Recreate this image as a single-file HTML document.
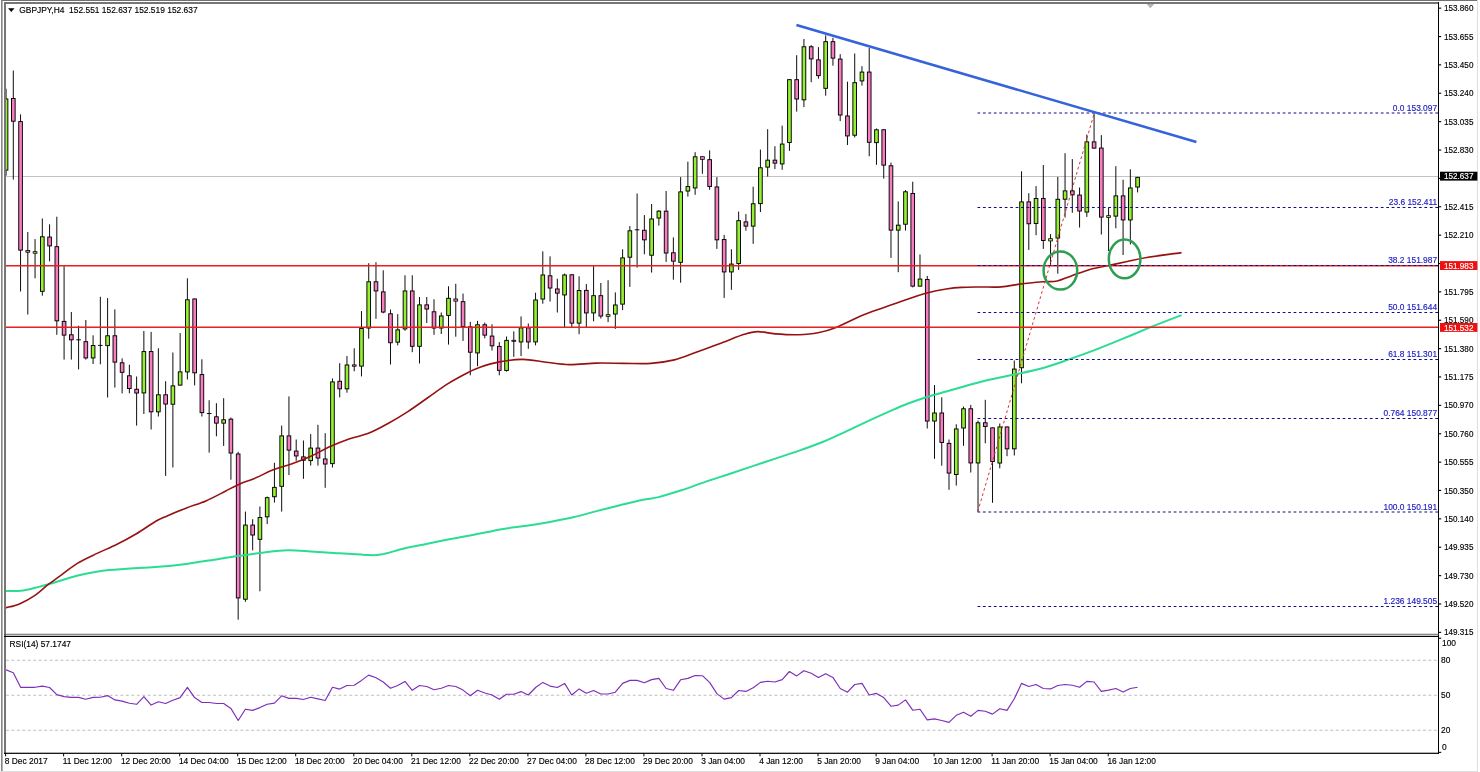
<!DOCTYPE html>
<html><head><meta charset="utf-8"><title>GBPJPY,H4</title>
<style>html,body{margin:0;padding:0;background:#fff;overflow:hidden}body{width:1480px;height:772px;position:relative}</style></head>
<body>
<svg width="1480" height="772" viewBox="0 0 1480 772" style="position:absolute;left:0;top:0;display:block" font-family="'Liberation Sans', sans-serif">
<defs><clipPath id="cm"><rect x="6" y="4" width="1432" height="630"/></clipPath><clipPath id="cr"><rect x="6" y="637" width="1432" height="116"/></clipPath></defs>
<rect width="1480" height="772" fill="#fff"/>
<rect x="1" y="0" width="1476" height="0.9" fill="#606060"/>
<rect x="1" y="0" width="1.6" height="771" fill="#858585"/>
<rect x="1477" y="0" width="1" height="772" fill="#dedede"/>
<rect x="0" y="771" width="1478" height="1" fill="#dedede"/>
<rect x="4" y="2" width="1435" height="2" fill="#767676"/>
<rect x="4" y="2" width="2" height="752" fill="#767676"/>
<path d="M1146.6 4 L1154.2 4 L1150.4 8.2 Z" fill="#b4b4b4"/>
<g clip-path="url(#cm)">
<rect x="6" y="176" width="1432" height="1" fill="#c3c3c3"/>
<line x1="6.05" y1="88.7" x2="6.05" y2="175.7" stroke="#000" stroke-width="0.95"/>
<rect x="4.22" y="98.97" width="3.65" height="71.15" fill="#94F030" stroke="#000" stroke-width="0.95"/>
<line x1="13.30" y1="70.5" x2="13.30" y2="179.6" stroke="#000" stroke-width="0.95"/>
<rect x="11.48" y="98.47" width="3.65" height="22.75" fill="#F97CC2" stroke="#000" stroke-width="0.95"/>
<line x1="20.56" y1="114.4" x2="20.56" y2="291.5" stroke="#000" stroke-width="0.95"/>
<rect x="18.73" y="121.57" width="3.65" height="128.55" fill="#F97CC2" stroke="#000" stroke-width="0.95"/>
<line x1="27.81" y1="232.0" x2="27.81" y2="314.5" stroke="#000" stroke-width="0.95"/>
<rect x="25.89" y="250.47" width="3.85" height="1.75" fill="#F97CC2" stroke="#000" stroke-width="0.75"/>
<line x1="35.06" y1="239.1" x2="35.06" y2="278.3" stroke="#000" stroke-width="0.95"/>
<rect x="33.14" y="251.68" width="3.85" height="1.55" fill="#94F030" stroke="#000" stroke-width="0.75"/>
<line x1="42.32" y1="218.5" x2="42.32" y2="295.7" stroke="#000" stroke-width="0.95"/>
<rect x="40.49" y="236.78" width="3.65" height="54.55" fill="#94F030" stroke="#000" stroke-width="0.95"/>
<line x1="49.57" y1="224.3" x2="49.57" y2="261.4" stroke="#000" stroke-width="0.95"/>
<rect x="47.75" y="237.07" width="3.65" height="8.85" fill="#F97CC2" stroke="#000" stroke-width="0.95"/>
<line x1="56.82" y1="216.7" x2="56.82" y2="334.8" stroke="#000" stroke-width="0.95"/>
<rect x="55.00" y="246.67" width="3.65" height="74.15" fill="#F97CC2" stroke="#000" stroke-width="0.95"/>
<line x1="64.08" y1="266.1" x2="64.08" y2="359.6" stroke="#000" stroke-width="0.95"/>
<rect x="62.25" y="321.38" width="3.65" height="13.75" fill="#F97CC2" stroke="#000" stroke-width="0.95"/>
<line x1="71.33" y1="312.0" x2="71.33" y2="359.6" stroke="#000" stroke-width="0.95"/>
<rect x="69.51" y="334.78" width="3.65" height="5.05" fill="#F97CC2" stroke="#000" stroke-width="0.95"/>
<line x1="78.58" y1="325.8" x2="78.58" y2="369.4" stroke="#000" stroke-width="0.95"/>
<line x1="76.28" y1="339.8" x2="80.88" y2="339.8" stroke="#000" stroke-width="0.95"/>
<line x1="85.84" y1="320.0" x2="85.84" y2="359.6" stroke="#000" stroke-width="0.95"/>
<rect x="84.01" y="341.68" width="3.65" height="16.25" fill="#F97CC2" stroke="#000" stroke-width="0.95"/>
<line x1="93.09" y1="335.3" x2="93.09" y2="364.0" stroke="#000" stroke-width="0.95"/>
<rect x="91.27" y="345.48" width="3.65" height="12.45" fill="#94F030" stroke="#000" stroke-width="0.95"/>
<line x1="100.35" y1="296.8" x2="100.35" y2="364.3" stroke="#000" stroke-width="0.95"/>
<line x1="98.05" y1="345.4" x2="102.65" y2="345.4" stroke="#000" stroke-width="0.95"/>
<line x1="107.60" y1="298.1" x2="107.60" y2="397.5" stroke="#000" stroke-width="0.95"/>
<rect x="105.77" y="335.78" width="3.65" height="9.85" fill="#94F030" stroke="#000" stroke-width="0.95"/>
<line x1="114.85" y1="309.4" x2="114.85" y2="387.6" stroke="#000" stroke-width="0.95"/>
<rect x="113.03" y="335.78" width="3.65" height="26.35" fill="#F97CC2" stroke="#000" stroke-width="0.95"/>
<line x1="122.11" y1="358.4" x2="122.11" y2="393.4" stroke="#000" stroke-width="0.95"/>
<rect x="120.28" y="362.78" width="3.65" height="9.55" fill="#F97CC2" stroke="#000" stroke-width="0.95"/>
<line x1="129.36" y1="364.7" x2="129.36" y2="393.3" stroke="#000" stroke-width="0.95"/>
<rect x="127.53" y="375.78" width="3.65" height="12.75" fill="#F97CC2" stroke="#000" stroke-width="0.95"/>
<line x1="136.61" y1="376.5" x2="136.61" y2="425.6" stroke="#000" stroke-width="0.95"/>
<rect x="134.79" y="389.28" width="3.65" height="3.75" fill="#F97CC2" stroke="#000" stroke-width="0.95"/>
<line x1="143.87" y1="331.0" x2="143.87" y2="414.0" stroke="#000" stroke-width="0.95"/>
<rect x="142.04" y="351.58" width="3.65" height="41.35" fill="#94F030" stroke="#000" stroke-width="0.95"/>
<line x1="151.12" y1="331.9" x2="151.12" y2="429.5" stroke="#000" stroke-width="0.95"/>
<rect x="149.29" y="351.58" width="3.65" height="60.25" fill="#F97CC2" stroke="#000" stroke-width="0.95"/>
<line x1="158.37" y1="348.3" x2="158.37" y2="416.5" stroke="#000" stroke-width="0.95"/>
<rect x="156.55" y="394.78" width="3.65" height="17.05" fill="#94F030" stroke="#000" stroke-width="0.95"/>
<line x1="165.63" y1="381.2" x2="165.63" y2="475.9" stroke="#000" stroke-width="0.95"/>
<rect x="163.80" y="394.78" width="3.65" height="9.25" fill="#F97CC2" stroke="#000" stroke-width="0.95"/>
<line x1="172.88" y1="352.5" x2="172.88" y2="467.5" stroke="#000" stroke-width="0.95"/>
<rect x="171.06" y="385.88" width="3.65" height="18.35" fill="#94F030" stroke="#000" stroke-width="0.95"/>
<line x1="180.13" y1="333.1" x2="180.13" y2="385.6" stroke="#000" stroke-width="0.95"/>
<rect x="178.31" y="371.88" width="3.65" height="13.25" fill="#94F030" stroke="#000" stroke-width="0.95"/>
<line x1="187.39" y1="278.3" x2="187.39" y2="379.5" stroke="#000" stroke-width="0.95"/>
<rect x="185.56" y="299.78" width="3.65" height="72.15" fill="#94F030" stroke="#000" stroke-width="0.95"/>
<line x1="194.64" y1="298.5" x2="194.64" y2="385.4" stroke="#000" stroke-width="0.95"/>
<rect x="192.82" y="298.98" width="3.65" height="73.85" fill="#F97CC2" stroke="#000" stroke-width="0.95"/>
<line x1="201.89" y1="359.3" x2="201.89" y2="416.5" stroke="#000" stroke-width="0.95"/>
<rect x="200.07" y="374.58" width="3.65" height="38.05" fill="#F97CC2" stroke="#000" stroke-width="0.95"/>
<line x1="209.15" y1="400.2" x2="209.15" y2="452.6" stroke="#000" stroke-width="0.95"/>
<line x1="206.85" y1="413.5" x2="211.45" y2="413.5" stroke="#000" stroke-width="0.95"/>
<line x1="216.40" y1="403.2" x2="216.40" y2="436.3" stroke="#000" stroke-width="0.95"/>
<rect x="214.58" y="416.78" width="3.65" height="6.35" fill="#F97CC2" stroke="#000" stroke-width="0.95"/>
<line x1="223.66" y1="398.2" x2="223.66" y2="445.9" stroke="#000" stroke-width="0.95"/>
<rect x="221.83" y="419.78" width="3.65" height="3.35" fill="#94F030" stroke="#000" stroke-width="0.95"/>
<line x1="230.91" y1="417.5" x2="230.91" y2="479.7" stroke="#000" stroke-width="0.95"/>
<rect x="229.08" y="419.18" width="3.65" height="33.85" fill="#F97CC2" stroke="#000" stroke-width="0.95"/>
<line x1="238.16" y1="451.8" x2="238.16" y2="619.7" stroke="#000" stroke-width="0.95"/>
<rect x="236.34" y="453.98" width="3.65" height="143.95" fill="#F97CC2" stroke="#000" stroke-width="0.95"/>
<line x1="245.42" y1="511.6" x2="245.42" y2="601.8" stroke="#000" stroke-width="0.95"/>
<rect x="243.59" y="525.08" width="3.65" height="74.15" fill="#94F030" stroke="#000" stroke-width="0.95"/>
<line x1="252.67" y1="519.2" x2="252.67" y2="550.4" stroke="#000" stroke-width="0.95"/>
<rect x="250.84" y="525.08" width="3.65" height="9.95" fill="#F97CC2" stroke="#000" stroke-width="0.95"/>
<line x1="259.92" y1="506.5" x2="259.92" y2="591.3" stroke="#000" stroke-width="0.95"/>
<rect x="258.10" y="517.48" width="3.65" height="21.85" fill="#94F030" stroke="#000" stroke-width="0.95"/>
<line x1="267.18" y1="496.6" x2="267.18" y2="524.1" stroke="#000" stroke-width="0.95"/>
<rect x="265.35" y="497.68" width="3.65" height="19.15" fill="#94F030" stroke="#000" stroke-width="0.95"/>
<line x1="274.43" y1="462.8" x2="274.43" y2="502.6" stroke="#000" stroke-width="0.95"/>
<rect x="272.60" y="487.38" width="3.65" height="9.35" fill="#94F030" stroke="#000" stroke-width="0.95"/>
<line x1="281.68" y1="425.6" x2="281.68" y2="511.6" stroke="#000" stroke-width="0.95"/>
<rect x="279.86" y="435.88" width="3.65" height="50.45" fill="#94F030" stroke="#000" stroke-width="0.95"/>
<line x1="288.94" y1="396.4" x2="288.94" y2="475.1" stroke="#000" stroke-width="0.95"/>
<rect x="287.11" y="435.88" width="3.65" height="14.25" fill="#F97CC2" stroke="#000" stroke-width="0.95"/>
<line x1="296.19" y1="439.5" x2="296.19" y2="460.7" stroke="#000" stroke-width="0.95"/>
<rect x="294.37" y="451.08" width="3.65" height="4.85" fill="#F97CC2" stroke="#000" stroke-width="0.95"/>
<line x1="303.44" y1="440.5" x2="303.44" y2="478.8" stroke="#000" stroke-width="0.95"/>
<rect x="301.62" y="456.88" width="3.65" height="3.35" fill="#F97CC2" stroke="#000" stroke-width="0.95"/>
<line x1="310.70" y1="434.1" x2="310.70" y2="465.6" stroke="#000" stroke-width="0.95"/>
<rect x="308.87" y="448.08" width="3.65" height="12.55" fill="#94F030" stroke="#000" stroke-width="0.95"/>
<line x1="317.95" y1="424.8" x2="317.95" y2="465.6" stroke="#000" stroke-width="0.95"/>
<rect x="316.13" y="448.08" width="3.65" height="9.95" fill="#F97CC2" stroke="#000" stroke-width="0.95"/>
<line x1="325.20" y1="433.2" x2="325.20" y2="487.8" stroke="#000" stroke-width="0.95"/>
<rect x="323.38" y="458.98" width="3.65" height="5.05" fill="#F97CC2" stroke="#000" stroke-width="0.95"/>
<line x1="332.46" y1="378.4" x2="332.46" y2="467.5" stroke="#000" stroke-width="0.95"/>
<rect x="330.63" y="381.88" width="3.65" height="81.75" fill="#94F030" stroke="#000" stroke-width="0.95"/>
<line x1="339.71" y1="363.2" x2="339.71" y2="397.4" stroke="#000" stroke-width="0.95"/>
<rect x="337.89" y="381.28" width="3.65" height="7.55" fill="#F97CC2" stroke="#000" stroke-width="0.95"/>
<line x1="346.96" y1="356.1" x2="346.96" y2="392.7" stroke="#000" stroke-width="0.95"/>
<rect x="345.14" y="364.98" width="3.65" height="23.85" fill="#94F030" stroke="#000" stroke-width="0.95"/>
<line x1="354.22" y1="348.3" x2="354.22" y2="371.3" stroke="#000" stroke-width="0.95"/>
<rect x="352.29" y="364.88" width="3.85" height="1.35" fill="#F97CC2" stroke="#000" stroke-width="0.75"/>
<line x1="361.47" y1="311.1" x2="361.47" y2="376.4" stroke="#000" stroke-width="0.95"/>
<rect x="359.65" y="328.48" width="3.65" height="37.65" fill="#94F030" stroke="#000" stroke-width="0.95"/>
<line x1="368.73" y1="263.2" x2="368.73" y2="338.7" stroke="#000" stroke-width="0.95"/>
<rect x="366.90" y="281.78" width="3.65" height="46.25" fill="#94F030" stroke="#000" stroke-width="0.95"/>
<line x1="375.98" y1="262.2" x2="375.98" y2="318.8" stroke="#000" stroke-width="0.95"/>
<rect x="374.15" y="281.78" width="3.65" height="9.15" fill="#F97CC2" stroke="#000" stroke-width="0.95"/>
<line x1="383.23" y1="270.3" x2="383.23" y2="313.3" stroke="#000" stroke-width="0.95"/>
<rect x="381.41" y="291.88" width="3.65" height="20.15" fill="#F97CC2" stroke="#000" stroke-width="0.95"/>
<line x1="390.49" y1="309.5" x2="390.49" y2="364.5" stroke="#000" stroke-width="0.95"/>
<rect x="388.66" y="313.78" width="3.65" height="28.95" fill="#F97CC2" stroke="#000" stroke-width="0.95"/>
<line x1="397.74" y1="314.2" x2="397.74" y2="345.4" stroke="#000" stroke-width="0.95"/>
<rect x="395.91" y="329.88" width="3.65" height="12.25" fill="#94F030" stroke="#000" stroke-width="0.95"/>
<line x1="404.99" y1="275.3" x2="404.99" y2="330.7" stroke="#000" stroke-width="0.95"/>
<rect x="403.17" y="290.98" width="3.65" height="37.95" fill="#94F030" stroke="#000" stroke-width="0.95"/>
<line x1="412.25" y1="275.3" x2="412.25" y2="352.2" stroke="#000" stroke-width="0.95"/>
<rect x="410.42" y="290.98" width="3.65" height="55.35" fill="#F97CC2" stroke="#000" stroke-width="0.95"/>
<line x1="419.50" y1="297.0" x2="419.50" y2="363.5" stroke="#000" stroke-width="0.95"/>
<rect x="417.67" y="304.88" width="3.65" height="41.45" fill="#94F030" stroke="#000" stroke-width="0.95"/>
<line x1="426.75" y1="297.0" x2="426.75" y2="323.0" stroke="#000" stroke-width="0.95"/>
<rect x="424.93" y="304.88" width="3.65" height="4.15" fill="#F97CC2" stroke="#000" stroke-width="0.95"/>
<line x1="434.01" y1="299.3" x2="434.01" y2="334.8" stroke="#000" stroke-width="0.95"/>
<rect x="432.18" y="311.78" width="3.65" height="16.25" fill="#F97CC2" stroke="#000" stroke-width="0.95"/>
<line x1="441.26" y1="312.5" x2="441.26" y2="334.0" stroke="#000" stroke-width="0.95"/>
<rect x="439.44" y="315.98" width="3.65" height="12.05" fill="#94F030" stroke="#000" stroke-width="0.95"/>
<line x1="448.51" y1="286.3" x2="448.51" y2="344.6" stroke="#000" stroke-width="0.95"/>
<rect x="446.69" y="298.28" width="3.65" height="17.15" fill="#94F030" stroke="#000" stroke-width="0.95"/>
<line x1="455.77" y1="283.8" x2="455.77" y2="336.7" stroke="#000" stroke-width="0.95"/>
<rect x="453.84" y="298.98" width="3.85" height="2.15" fill="#F97CC2" stroke="#000" stroke-width="0.75"/>
<line x1="463.02" y1="293.6" x2="463.02" y2="340.9" stroke="#000" stroke-width="0.95"/>
<rect x="461.20" y="301.68" width="3.65" height="24.75" fill="#F97CC2" stroke="#000" stroke-width="0.95"/>
<line x1="470.27" y1="321.8" x2="470.27" y2="375.3" stroke="#000" stroke-width="0.95"/>
<rect x="468.45" y="326.88" width="3.65" height="25.35" fill="#F97CC2" stroke="#000" stroke-width="0.95"/>
<line x1="477.53" y1="320.9" x2="477.53" y2="366.2" stroke="#000" stroke-width="0.95"/>
<rect x="475.70" y="324.78" width="3.65" height="28.15" fill="#94F030" stroke="#000" stroke-width="0.95"/>
<line x1="484.78" y1="322.6" x2="484.78" y2="338.3" stroke="#000" stroke-width="0.95"/>
<rect x="482.96" y="324.78" width="3.65" height="10.35" fill="#F97CC2" stroke="#000" stroke-width="0.95"/>
<line x1="492.03" y1="324.3" x2="492.03" y2="350.5" stroke="#000" stroke-width="0.95"/>
<rect x="490.21" y="336.08" width="3.65" height="9.75" fill="#F97CC2" stroke="#000" stroke-width="0.95"/>
<line x1="499.29" y1="342.1" x2="499.29" y2="375.3" stroke="#000" stroke-width="0.95"/>
<rect x="497.46" y="346.38" width="3.65" height="23.95" fill="#F97CC2" stroke="#000" stroke-width="0.95"/>
<line x1="506.54" y1="336.5" x2="506.54" y2="371.6" stroke="#000" stroke-width="0.95"/>
<rect x="504.72" y="340.38" width="3.65" height="30.05" fill="#94F030" stroke="#000" stroke-width="0.95"/>
<line x1="513.79" y1="331.4" x2="513.79" y2="356.8" stroke="#000" stroke-width="0.95"/>
<rect x="511.87" y="340.27" width="3.85" height="1.05" fill="#F97CC2" stroke="#000" stroke-width="0.75"/>
<line x1="521.05" y1="316.4" x2="521.05" y2="356.1" stroke="#000" stroke-width="0.95"/>
<rect x="519.22" y="327.88" width="3.65" height="14.05" fill="#94F030" stroke="#000" stroke-width="0.95"/>
<line x1="528.30" y1="323.5" x2="528.30" y2="348.8" stroke="#000" stroke-width="0.95"/>
<rect x="526.48" y="327.88" width="3.65" height="14.05" fill="#F97CC2" stroke="#000" stroke-width="0.95"/>
<line x1="535.56" y1="292.7" x2="535.56" y2="345.4" stroke="#000" stroke-width="0.95"/>
<rect x="533.73" y="299.98" width="3.65" height="41.95" fill="#94F030" stroke="#000" stroke-width="0.95"/>
<line x1="542.81" y1="251.4" x2="542.81" y2="303.7" stroke="#000" stroke-width="0.95"/>
<rect x="540.98" y="274.98" width="3.65" height="24.05" fill="#94F030" stroke="#000" stroke-width="0.95"/>
<line x1="550.06" y1="256.4" x2="550.06" y2="301.5" stroke="#000" stroke-width="0.95"/>
<rect x="548.24" y="275.78" width="3.65" height="12.25" fill="#F97CC2" stroke="#000" stroke-width="0.95"/>
<line x1="557.32" y1="278.7" x2="557.32" y2="312.5" stroke="#000" stroke-width="0.95"/>
<rect x="555.49" y="288.98" width="3.65" height="4.15" fill="#F97CC2" stroke="#000" stroke-width="0.95"/>
<line x1="564.57" y1="273.6" x2="564.57" y2="327.1" stroke="#000" stroke-width="0.95"/>
<rect x="562.74" y="274.98" width="3.65" height="19.95" fill="#94F030" stroke="#000" stroke-width="0.95"/>
<line x1="571.82" y1="274.3" x2="571.82" y2="327.1" stroke="#000" stroke-width="0.95"/>
<rect x="570.00" y="274.78" width="3.65" height="48.35" fill="#F97CC2" stroke="#000" stroke-width="0.95"/>
<line x1="579.08" y1="276.3" x2="579.08" y2="334.2" stroke="#000" stroke-width="0.95"/>
<rect x="577.25" y="290.48" width="3.65" height="32.65" fill="#94F030" stroke="#000" stroke-width="0.95"/>
<line x1="586.33" y1="284.1" x2="586.33" y2="327.1" stroke="#000" stroke-width="0.95"/>
<rect x="584.50" y="290.38" width="3.65" height="22.55" fill="#F97CC2" stroke="#000" stroke-width="0.95"/>
<line x1="593.58" y1="266.1" x2="593.58" y2="321.3" stroke="#000" stroke-width="0.95"/>
<rect x="591.76" y="295.68" width="3.65" height="17.25" fill="#94F030" stroke="#000" stroke-width="0.95"/>
<line x1="600.84" y1="283.0" x2="600.84" y2="318.5" stroke="#000" stroke-width="0.95"/>
<rect x="599.01" y="295.68" width="3.65" height="20.35" fill="#F97CC2" stroke="#000" stroke-width="0.95"/>
<line x1="608.09" y1="280.2" x2="608.09" y2="322.1" stroke="#000" stroke-width="0.95"/>
<rect x="606.17" y="314.68" width="3.85" height="1.65" fill="#94F030" stroke="#000" stroke-width="0.75"/>
<line x1="615.34" y1="292.4" x2="615.34" y2="328.9" stroke="#000" stroke-width="0.95"/>
<rect x="613.52" y="304.98" width="3.65" height="9.05" fill="#94F030" stroke="#000" stroke-width="0.95"/>
<line x1="622.60" y1="249.3" x2="622.60" y2="310.1" stroke="#000" stroke-width="0.95"/>
<rect x="620.77" y="257.88" width="3.65" height="46.25" fill="#94F030" stroke="#000" stroke-width="0.95"/>
<line x1="629.85" y1="226.1" x2="629.85" y2="286.9" stroke="#000" stroke-width="0.95"/>
<rect x="628.03" y="230.78" width="3.65" height="26.45" fill="#94F030" stroke="#000" stroke-width="0.95"/>
<line x1="637.10" y1="193.5" x2="637.10" y2="267.5" stroke="#000" stroke-width="0.95"/>
<line x1="634.80" y1="229.8" x2="639.40" y2="229.8" stroke="#000" stroke-width="0.95"/>
<line x1="644.36" y1="215.1" x2="644.36" y2="254.3" stroke="#000" stroke-width="0.95"/>
<rect x="642.53" y="230.28" width="3.65" height="9.55" fill="#F97CC2" stroke="#000" stroke-width="0.95"/>
<line x1="651.61" y1="204.0" x2="651.61" y2="272.6" stroke="#000" stroke-width="0.95"/>
<rect x="649.79" y="218.97" width="3.65" height="36.25" fill="#94F030" stroke="#000" stroke-width="0.95"/>
<line x1="658.86" y1="210.1" x2="658.86" y2="225.6" stroke="#000" stroke-width="0.95"/>
<rect x="657.04" y="211.17" width="3.65" height="6.85" fill="#94F030" stroke="#000" stroke-width="0.95"/>
<line x1="666.12" y1="191.0" x2="666.12" y2="261.9" stroke="#000" stroke-width="0.95"/>
<rect x="664.29" y="211.17" width="3.65" height="41.85" fill="#F97CC2" stroke="#000" stroke-width="0.95"/>
<line x1="673.37" y1="237.4" x2="673.37" y2="279.7" stroke="#000" stroke-width="0.95"/>
<rect x="671.55" y="252.78" width="3.65" height="8.35" fill="#F97CC2" stroke="#000" stroke-width="0.95"/>
<line x1="680.63" y1="177.1" x2="680.63" y2="282.7" stroke="#000" stroke-width="0.95"/>
<rect x="678.80" y="191.88" width="3.65" height="70.45" fill="#94F030" stroke="#000" stroke-width="0.95"/>
<line x1="687.88" y1="161.7" x2="687.88" y2="196.6" stroke="#000" stroke-width="0.95"/>
<rect x="686.05" y="186.57" width="3.65" height="4.45" fill="#94F030" stroke="#000" stroke-width="0.95"/>
<line x1="695.13" y1="152.2" x2="695.13" y2="194.8" stroke="#000" stroke-width="0.95"/>
<rect x="693.31" y="156.78" width="3.65" height="31.15" fill="#94F030" stroke="#000" stroke-width="0.95"/>
<line x1="702.39" y1="156.3" x2="702.39" y2="173.8" stroke="#000" stroke-width="0.95"/>
<rect x="700.46" y="156.68" width="3.85" height="2.65" fill="#F97CC2" stroke="#000" stroke-width="0.75"/>
<line x1="709.64" y1="150.4" x2="709.64" y2="189.8" stroke="#000" stroke-width="0.95"/>
<rect x="707.81" y="159.67" width="3.65" height="26.85" fill="#F97CC2" stroke="#000" stroke-width="0.95"/>
<line x1="716.89" y1="177.1" x2="716.89" y2="248.9" stroke="#000" stroke-width="0.95"/>
<rect x="715.07" y="186.97" width="3.65" height="52.85" fill="#F97CC2" stroke="#000" stroke-width="0.95"/>
<line x1="724.15" y1="234.9" x2="724.15" y2="297.9" stroke="#000" stroke-width="0.95"/>
<rect x="722.32" y="239.57" width="3.65" height="32.35" fill="#F97CC2" stroke="#000" stroke-width="0.95"/>
<line x1="731.40" y1="249.3" x2="731.40" y2="289.8" stroke="#000" stroke-width="0.95"/>
<rect x="729.58" y="264.08" width="3.65" height="7.85" fill="#94F030" stroke="#000" stroke-width="0.95"/>
<line x1="738.65" y1="211.6" x2="738.65" y2="269.9" stroke="#000" stroke-width="0.95"/>
<rect x="736.83" y="220.67" width="3.65" height="42.85" fill="#94F030" stroke="#000" stroke-width="0.95"/>
<line x1="745.91" y1="214.1" x2="745.91" y2="230.7" stroke="#000" stroke-width="0.95"/>
<rect x="744.08" y="221.88" width="3.65" height="4.25" fill="#F97CC2" stroke="#000" stroke-width="0.95"/>
<line x1="753.16" y1="186.7" x2="753.16" y2="243.8" stroke="#000" stroke-width="0.95"/>
<rect x="751.34" y="203.78" width="3.65" height="22.35" fill="#94F030" stroke="#000" stroke-width="0.95"/>
<line x1="760.41" y1="149.6" x2="760.41" y2="212.1" stroke="#000" stroke-width="0.95"/>
<rect x="758.59" y="167.78" width="3.65" height="35.85" fill="#94F030" stroke="#000" stroke-width="0.95"/>
<line x1="767.67" y1="129.2" x2="767.67" y2="176.6" stroke="#000" stroke-width="0.95"/>
<rect x="765.84" y="160.17" width="3.65" height="6.95" fill="#94F030" stroke="#000" stroke-width="0.95"/>
<line x1="774.92" y1="146.2" x2="774.92" y2="169.0" stroke="#000" stroke-width="0.95"/>
<rect x="773.10" y="160.17" width="3.65" height="2.95" fill="#F97CC2" stroke="#000" stroke-width="0.95"/>
<line x1="782.17" y1="125.6" x2="782.17" y2="169.8" stroke="#000" stroke-width="0.95"/>
<rect x="780.35" y="144.07" width="3.65" height="19.85" fill="#94F030" stroke="#000" stroke-width="0.95"/>
<line x1="789.43" y1="79.2" x2="789.43" y2="150.9" stroke="#000" stroke-width="0.95"/>
<rect x="787.60" y="79.67" width="3.65" height="62.85" fill="#94F030" stroke="#000" stroke-width="0.95"/>
<line x1="796.68" y1="55.2" x2="796.68" y2="111.6" stroke="#000" stroke-width="0.95"/>
<rect x="794.86" y="79.67" width="3.65" height="19.35" fill="#F97CC2" stroke="#000" stroke-width="0.95"/>
<line x1="803.93" y1="39.0" x2="803.93" y2="107.1" stroke="#000" stroke-width="0.95"/>
<rect x="802.11" y="46.77" width="3.65" height="53.05" fill="#94F030" stroke="#000" stroke-width="0.95"/>
<line x1="811.19" y1="45.1" x2="811.19" y2="82.2" stroke="#000" stroke-width="0.95"/>
<rect x="809.36" y="46.77" width="3.65" height="12.15" fill="#F97CC2" stroke="#000" stroke-width="0.95"/>
<line x1="818.44" y1="47.1" x2="818.44" y2="78.7" stroke="#000" stroke-width="0.95"/>
<rect x="816.62" y="59.88" width="3.65" height="15.75" fill="#F97CC2" stroke="#000" stroke-width="0.95"/>
<line x1="825.70" y1="35.3" x2="825.70" y2="95.7" stroke="#000" stroke-width="0.95"/>
<rect x="823.87" y="41.68" width="3.65" height="46.65" fill="#94F030" stroke="#000" stroke-width="0.95"/>
<line x1="832.95" y1="37.8" x2="832.95" y2="65.7" stroke="#000" stroke-width="0.95"/>
<rect x="831.12" y="41.68" width="3.65" height="16.45" fill="#F97CC2" stroke="#000" stroke-width="0.95"/>
<line x1="840.20" y1="54.2" x2="840.20" y2="121.1" stroke="#000" stroke-width="0.95"/>
<rect x="838.38" y="59.08" width="3.65" height="55.95" fill="#F97CC2" stroke="#000" stroke-width="0.95"/>
<line x1="847.46" y1="81.7" x2="847.46" y2="145.0" stroke="#000" stroke-width="0.95"/>
<rect x="845.63" y="115.97" width="3.65" height="19.95" fill="#F97CC2" stroke="#000" stroke-width="0.95"/>
<line x1="854.71" y1="53.5" x2="854.71" y2="137.4" stroke="#000" stroke-width="0.95"/>
<rect x="852.88" y="82.67" width="3.65" height="52.55" fill="#94F030" stroke="#000" stroke-width="0.95"/>
<line x1="861.96" y1="66.2" x2="861.96" y2="85.6" stroke="#000" stroke-width="0.95"/>
<rect x="860.14" y="72.07" width="3.65" height="8.85" fill="#94F030" stroke="#000" stroke-width="0.95"/>
<line x1="869.22" y1="47.9" x2="869.22" y2="156.3" stroke="#000" stroke-width="0.95"/>
<rect x="867.39" y="72.07" width="3.65" height="70.25" fill="#F97CC2" stroke="#000" stroke-width="0.95"/>
<line x1="876.47" y1="128.5" x2="876.47" y2="164.8" stroke="#000" stroke-width="0.95"/>
<rect x="874.64" y="129.78" width="3.65" height="12.85" fill="#94F030" stroke="#000" stroke-width="0.95"/>
<line x1="883.72" y1="129.3" x2="883.72" y2="178.6" stroke="#000" stroke-width="0.95"/>
<rect x="881.90" y="129.78" width="3.65" height="35.35" fill="#F97CC2" stroke="#000" stroke-width="0.95"/>
<line x1="890.98" y1="162.6" x2="890.98" y2="257.9" stroke="#000" stroke-width="0.95"/>
<rect x="889.15" y="165.78" width="3.65" height="64.35" fill="#F97CC2" stroke="#000" stroke-width="0.95"/>
<line x1="898.23" y1="201.4" x2="898.23" y2="272.2" stroke="#000" stroke-width="0.95"/>
<rect x="896.41" y="225.17" width="3.65" height="4.95" fill="#94F030" stroke="#000" stroke-width="0.95"/>
<line x1="905.48" y1="190.1" x2="905.48" y2="230.6" stroke="#000" stroke-width="0.95"/>
<rect x="903.66" y="191.78" width="3.65" height="32.45" fill="#94F030" stroke="#000" stroke-width="0.95"/>
<line x1="912.74" y1="181.7" x2="912.74" y2="287.4" stroke="#000" stroke-width="0.95"/>
<rect x="910.91" y="193.47" width="3.65" height="92.65" fill="#F97CC2" stroke="#000" stroke-width="0.95"/>
<line x1="919.99" y1="254.5" x2="919.99" y2="286.6" stroke="#000" stroke-width="0.95"/>
<rect x="918.17" y="279.08" width="3.65" height="7.05" fill="#94F030" stroke="#000" stroke-width="0.95"/>
<line x1="927.24" y1="275.9" x2="927.24" y2="428.5" stroke="#000" stroke-width="0.95"/>
<rect x="925.42" y="279.48" width="3.65" height="141.55" fill="#F97CC2" stroke="#000" stroke-width="0.95"/>
<line x1="934.50" y1="385.1" x2="934.50" y2="458.8" stroke="#000" stroke-width="0.95"/>
<rect x="932.67" y="412.98" width="3.65" height="8.05" fill="#94F030" stroke="#000" stroke-width="0.95"/>
<line x1="941.75" y1="397.3" x2="941.75" y2="465.7" stroke="#000" stroke-width="0.95"/>
<rect x="939.93" y="412.98" width="3.65" height="29.45" fill="#F97CC2" stroke="#000" stroke-width="0.95"/>
<line x1="949.00" y1="439.5" x2="949.00" y2="489.8" stroke="#000" stroke-width="0.95"/>
<rect x="947.18" y="443.38" width="3.65" height="29.65" fill="#F97CC2" stroke="#000" stroke-width="0.95"/>
<line x1="956.26" y1="424.3" x2="956.26" y2="485.6" stroke="#000" stroke-width="0.95"/>
<rect x="954.43" y="428.98" width="3.65" height="45.55" fill="#94F030" stroke="#000" stroke-width="0.95"/>
<line x1="963.51" y1="406.6" x2="963.51" y2="445.8" stroke="#000" stroke-width="0.95"/>
<rect x="961.69" y="408.78" width="3.65" height="19.25" fill="#94F030" stroke="#000" stroke-width="0.95"/>
<line x1="970.77" y1="404.9" x2="970.77" y2="472.5" stroke="#000" stroke-width="0.95"/>
<rect x="968.94" y="408.78" width="3.65" height="54.15" fill="#F97CC2" stroke="#000" stroke-width="0.95"/>
<line x1="978.02" y1="420.6" x2="978.02" y2="511.8" stroke="#000" stroke-width="0.95"/>
<rect x="976.19" y="422.78" width="3.65" height="40.15" fill="#94F030" stroke="#000" stroke-width="0.95"/>
<line x1="985.27" y1="399.8" x2="985.27" y2="443.3" stroke="#000" stroke-width="0.95"/>
<rect x="983.45" y="422.78" width="3.65" height="3.65" fill="#F97CC2" stroke="#000" stroke-width="0.95"/>
<line x1="992.53" y1="427.4" x2="992.53" y2="502.8" stroke="#000" stroke-width="0.95"/>
<rect x="990.70" y="427.88" width="3.65" height="33.65" fill="#F97CC2" stroke="#000" stroke-width="0.95"/>
<line x1="999.78" y1="423.5" x2="999.78" y2="468.3" stroke="#000" stroke-width="0.95"/>
<rect x="997.95" y="426.98" width="3.65" height="36.05" fill="#94F030" stroke="#000" stroke-width="0.95"/>
<line x1="1007.03" y1="426.5" x2="1007.03" y2="456.2" stroke="#000" stroke-width="0.95"/>
<rect x="1005.21" y="426.98" width="3.65" height="21.85" fill="#F97CC2" stroke="#000" stroke-width="0.95"/>
<line x1="1014.29" y1="360.5" x2="1014.29" y2="455.5" stroke="#000" stroke-width="0.95"/>
<rect x="1012.46" y="369.08" width="3.65" height="79.75" fill="#94F030" stroke="#000" stroke-width="0.95"/>
<line x1="1021.54" y1="171.3" x2="1021.54" y2="383.3" stroke="#000" stroke-width="0.95"/>
<rect x="1019.72" y="201.88" width="3.65" height="165.85" fill="#94F030" stroke="#000" stroke-width="0.95"/>
<line x1="1028.79" y1="193.2" x2="1028.79" y2="249.9" stroke="#000" stroke-width="0.95"/>
<rect x="1026.97" y="201.88" width="3.65" height="21.85" fill="#F97CC2" stroke="#000" stroke-width="0.95"/>
<line x1="1036.05" y1="186.1" x2="1036.05" y2="235.2" stroke="#000" stroke-width="0.95"/>
<rect x="1034.22" y="198.47" width="3.65" height="25.05" fill="#94F030" stroke="#000" stroke-width="0.95"/>
<line x1="1043.30" y1="165.0" x2="1043.30" y2="248.9" stroke="#000" stroke-width="0.95"/>
<rect x="1041.48" y="198.47" width="3.65" height="42.05" fill="#F97CC2" stroke="#000" stroke-width="0.95"/>
<line x1="1050.55" y1="234.1" x2="1050.55" y2="264.8" stroke="#000" stroke-width="0.95"/>
<rect x="1048.63" y="238.68" width="3.85" height="2.25" fill="#94F030" stroke="#000" stroke-width="0.75"/>
<line x1="1057.81" y1="176.9" x2="1057.81" y2="273.7" stroke="#000" stroke-width="0.95"/>
<rect x="1055.98" y="199.28" width="3.65" height="38.75" fill="#94F030" stroke="#000" stroke-width="0.95"/>
<line x1="1065.06" y1="153.2" x2="1065.06" y2="217.5" stroke="#000" stroke-width="0.95"/>
<rect x="1063.24" y="190.88" width="3.65" height="8.35" fill="#94F030" stroke="#000" stroke-width="0.95"/>
<line x1="1072.31" y1="159.1" x2="1072.31" y2="212.8" stroke="#000" stroke-width="0.95"/>
<rect x="1070.49" y="190.88" width="3.65" height="3.95" fill="#F97CC2" stroke="#000" stroke-width="0.95"/>
<line x1="1079.57" y1="187.5" x2="1079.57" y2="227.5" stroke="#000" stroke-width="0.95"/>
<rect x="1077.74" y="195.07" width="3.65" height="15.95" fill="#F97CC2" stroke="#000" stroke-width="0.95"/>
<line x1="1086.82" y1="134.6" x2="1086.82" y2="216.9" stroke="#000" stroke-width="0.95"/>
<rect x="1085.00" y="141.88" width="3.65" height="70.15" fill="#94F030" stroke="#000" stroke-width="0.95"/>
<line x1="1094.07" y1="113.5" x2="1094.07" y2="148.6" stroke="#000" stroke-width="0.95"/>
<rect x="1092.25" y="141.88" width="3.65" height="6.25" fill="#F97CC2" stroke="#000" stroke-width="0.95"/>
<line x1="1101.33" y1="135.1" x2="1101.33" y2="234.5" stroke="#000" stroke-width="0.95"/>
<rect x="1099.50" y="148.07" width="3.65" height="69.05" fill="#F97CC2" stroke="#000" stroke-width="0.95"/>
<line x1="1108.58" y1="207.7" x2="1108.58" y2="251.0" stroke="#000" stroke-width="0.95"/>
<rect x="1106.66" y="215.68" width="3.85" height="1.75" fill="#94F030" stroke="#000" stroke-width="0.75"/>
<line x1="1115.84" y1="166.2" x2="1115.84" y2="228.3" stroke="#000" stroke-width="0.95"/>
<rect x="1114.01" y="195.88" width="3.65" height="20.25" fill="#94F030" stroke="#000" stroke-width="0.95"/>
<line x1="1123.09" y1="179.7" x2="1123.09" y2="255.0" stroke="#000" stroke-width="0.95"/>
<rect x="1121.26" y="195.88" width="3.65" height="24.05" fill="#F97CC2" stroke="#000" stroke-width="0.95"/>
<line x1="1130.34" y1="169.3" x2="1130.34" y2="244.4" stroke="#000" stroke-width="0.95"/>
<rect x="1128.52" y="187.97" width="3.65" height="31.95" fill="#94F030" stroke="#000" stroke-width="0.95"/>
<line x1="1137.60" y1="176.9" x2="1137.60" y2="192.4" stroke="#000" stroke-width="0.95"/>
<rect x="1135.77" y="177.38" width="3.65" height="9.65" fill="#94F030" stroke="#000" stroke-width="0.95"/>
<path d="M5.8 591.1 C8.7 591.0 17.8 591.1 23.3 590.4 C28.8 589.7 34.7 587.9 38.9 586.9 C43.1 585.9 42.1 586.2 48.6 584.3 C55.1 582.4 69.0 577.7 77.7 575.5 C86.4 573.3 93.2 572.0 101.0 570.9 C108.8 569.8 115.2 569.5 124.3 568.9 C133.4 568.2 145.0 567.8 155.4 567.0 C165.8 566.2 176.1 565.2 186.5 563.9 C196.9 562.6 209.0 560.5 217.6 559.2 C226.2 557.9 230.0 557.2 237.8 556.1 C245.6 555.0 255.9 553.4 264.2 552.4 C272.5 551.4 279.7 550.4 287.5 550.2 C295.3 550.0 303.0 550.9 310.8 551.4 C318.6 551.9 325.0 552.4 334.1 553.0 C343.2 553.6 357.4 554.6 365.2 554.9 C373.0 555.2 374.2 555.7 380.7 554.6 C387.2 553.5 396.2 550.3 404.0 548.5 C411.8 546.7 419.6 545.3 427.4 543.7 C435.2 542.1 442.9 540.5 450.7 539.0 C458.5 537.5 465.2 536.4 474.0 534.7 C482.8 533.0 494.5 530.4 503.3 528.9 C512.1 527.4 518.8 527.0 526.6 525.8 C534.4 524.6 542.1 523.3 549.9 521.9 C557.7 520.5 565.4 519.1 573.2 517.3 C581.0 515.5 588.8 513.1 596.6 511.1 C604.4 509.1 612.1 507.1 619.9 505.2 C627.7 503.3 636.7 501.1 643.2 499.8 C649.7 498.5 652.2 498.7 658.7 497.1 C665.2 495.5 674.2 492.6 682.0 490.1 C689.8 487.6 697.5 484.5 705.3 481.9 C713.1 479.2 720.8 476.8 728.6 474.2 C736.4 471.6 744.2 469.0 752.0 466.4 C759.8 463.8 767.5 461.2 775.3 458.6 C783.1 456.0 790.8 453.6 798.6 450.9 C806.4 448.2 814.1 445.5 821.9 442.3 C829.7 439.1 837.4 435.4 845.2 431.8 C853.0 428.2 860.7 424.5 868.5 420.9 C876.3 417.3 885.3 413.2 891.8 410.4 C898.3 407.5 901.6 406.0 907.4 403.8 C913.2 401.6 920.3 399.1 926.8 397.0 C933.3 394.9 939.7 393.3 946.2 391.5 C952.7 389.7 959.2 387.8 965.7 386.0 C972.2 384.2 976.9 382.7 985.0 380.8 C993.1 378.9 1004.4 376.7 1014.1 374.6 C1023.8 372.5 1034.1 370.5 1043.2 368.0 C1052.3 365.5 1060.4 362.4 1068.9 359.4 C1077.5 356.4 1085.6 353.5 1094.5 350.1 C1103.4 346.7 1113.2 342.7 1122.5 338.9 C1131.8 335.1 1140.7 331.2 1150.5 327.2 C1160.3 323.2 1176.3 317.1 1181.5 315.1" fill="none" stroke="#2BDD92" stroke-width="2.0"/>
<path d="M5.8 607.8 C8.1 607.1 14.5 606.0 19.4 603.9 C24.3 601.8 30.1 598.6 35.0 595.3 C39.9 592.0 44.1 587.7 48.6 584.2 C53.1 580.7 57.4 577.8 62.2 574.3 C67.0 570.8 71.9 566.6 77.7 563.1 C83.5 559.6 90.6 556.5 97.1 553.4 C103.6 550.3 110.1 547.7 116.6 544.5 C123.1 541.3 129.5 537.8 136.0 534.0 C142.5 530.2 150.2 524.5 155.4 521.5 C160.6 518.5 161.9 518.2 167.1 515.9 C172.3 513.6 180.0 510.4 186.5 507.9 C193.0 505.4 199.4 503.7 205.9 500.9 C212.4 498.1 220.0 493.9 225.3 491.2 C230.6 488.5 232.6 487.2 237.8 484.9 C243.0 482.6 250.7 480.1 256.4 477.6 C262.1 475.2 266.2 472.5 272.0 470.2 C277.8 467.9 284.9 466.3 291.4 464.0 C297.9 461.7 304.3 459.2 310.8 456.3 C317.3 453.4 323.7 449.4 330.2 446.5 C336.7 443.6 343.2 441.1 349.7 438.8 C356.2 436.6 362.6 435.6 369.1 433.0 C375.6 430.4 382.0 426.8 388.5 423.2 C395.0 419.6 401.4 415.8 407.9 411.6 C414.4 407.4 420.9 402.5 427.4 398.0 C433.9 393.5 440.3 388.5 446.8 384.4 C453.3 380.3 460.7 376.4 466.2 373.5 C471.7 370.6 474.5 369.2 480.0 367.3 C485.5 365.4 492.3 363.2 499.4 361.9 C506.5 360.6 514.9 359.3 522.7 359.4 C530.5 359.4 538.2 361.3 546.0 362.2 C553.8 363.1 561.0 364.5 569.4 364.6 C577.8 364.8 587.5 363.3 596.6 363.1 C605.7 362.9 614.7 363.3 623.7 363.4 C632.8 363.4 642.5 364.0 650.9 363.4 C659.3 362.8 666.5 361.8 674.3 359.9 C682.1 358.0 689.8 354.6 697.6 351.8 C705.4 349.0 713.1 346.1 720.9 343.2 C728.7 340.3 738.1 336.2 744.2 334.3 C750.4 332.4 752.6 331.7 757.8 331.6 C763.0 331.5 768.5 333.4 775.3 333.9 C782.1 334.4 791.5 334.9 798.6 334.7 C805.7 334.5 811.5 334.1 818.0 332.8 C824.5 331.5 830.3 329.7 837.4 326.9 C844.5 324.1 852.9 319.2 860.7 316.0 C868.5 312.8 876.2 310.3 884.0 307.5 C891.8 304.7 900.3 301.7 907.4 299.3 C914.5 296.9 920.3 294.7 926.8 293.0 C933.3 291.3 940.4 289.9 946.2 289.0 C952.0 288.1 956.1 287.7 961.7 287.4 C967.3 287.1 973.4 287.1 980.0 287.0 C986.6 286.9 994.6 287.4 1001.3 286.9 C1007.9 286.4 1012.9 285.0 1019.9 284.1 C1026.9 283.2 1037.0 282.3 1043.2 281.8 C1049.4 281.3 1052.5 282.0 1057.2 281.0 C1061.9 280.0 1065.8 277.8 1071.2 275.9 C1076.7 274.0 1083.7 271.1 1089.9 269.4 C1096.1 267.7 1102.3 266.8 1108.5 265.5 C1114.7 264.2 1120.6 262.9 1127.2 261.5 C1133.8 260.1 1139.0 258.8 1148.1 257.3 C1157.1 255.8 1175.9 253.4 1181.5 252.6" fill="none" stroke="#961212" stroke-width="1.6"/>
<line x1="6" y1="265.65" x2="1438" y2="265.65" stroke="#E42020" stroke-width="1.45"/>
<line x1="6" y1="327.20" x2="1438" y2="327.20" stroke="#E42020" stroke-width="1.45"/>
<line x1="977.5" y1="113.0" x2="1438" y2="113.0" stroke="#0C0C8C" stroke-width="1" stroke-dasharray="2.75 2.7"/>
<text x="1437.1" y="110.5" font-size="8.4" text-anchor="end" fill="#2020C0" stroke="#2020C0" stroke-width="0.15">0.0 153.097</text>
<line x1="977.5" y1="207.5" x2="1438" y2="207.5" stroke="#0C0C8C" stroke-width="1" stroke-dasharray="2.75 2.7"/>
<text x="1437.1" y="205.0" font-size="8.4" text-anchor="end" fill="#2020C0" stroke="#2020C0" stroke-width="0.15">23.6 152.411</text>
<line x1="977.5" y1="265.5" x2="1438" y2="265.5" stroke="#0C0C8C" stroke-width="1" stroke-dasharray="2.75 2.7"/>
<text x="1437.1" y="263.0" font-size="8.4" text-anchor="end" fill="#2020C0" stroke="#2020C0" stroke-width="0.15">38.2 151.987</text>
<line x1="977.5" y1="312.5" x2="1438" y2="312.5" stroke="#0C0C8C" stroke-width="1" stroke-dasharray="2.75 2.7"/>
<text x="1437.1" y="310.0" font-size="8.4" text-anchor="end" fill="#2020C0" stroke="#2020C0" stroke-width="0.15">50.0 151.644</text>
<line x1="977.5" y1="359.5" x2="1438" y2="359.5" stroke="#0C0C8C" stroke-width="1" stroke-dasharray="2.75 2.7"/>
<text x="1437.1" y="357.0" font-size="8.4" text-anchor="end" fill="#2020C0" stroke="#2020C0" stroke-width="0.15">61.8 151.301</text>
<line x1="977.5" y1="418.5" x2="1438" y2="418.5" stroke="#0C0C8C" stroke-width="1" stroke-dasharray="2.75 2.7"/>
<text x="1437.1" y="416.0" font-size="8.4" text-anchor="end" fill="#2020C0" stroke="#2020C0" stroke-width="0.15">0.764 150.877</text>
<line x1="977.5" y1="512.0" x2="1438" y2="512.0" stroke="#0C0C8C" stroke-width="1" stroke-dasharray="2.75 2.7"/>
<text x="1437.1" y="509.5" font-size="8.4" text-anchor="end" fill="#2020C0" stroke="#2020C0" stroke-width="0.15">100.0 150.191</text>
<line x1="977.5" y1="606.5" x2="1438" y2="606.5" stroke="#0C0C8C" stroke-width="1" stroke-dasharray="2.75 2.7"/>
<text x="1437.1" y="604.0" font-size="8.4" text-anchor="end" fill="#2020C0" stroke="#2020C0" stroke-width="0.15">1.236 149.505</text>
<line x1="977.8" y1="511.5" x2="1094.2" y2="113.5" stroke="#DC3030" stroke-width="1.0" stroke-dasharray="2.7 2.7"/>
<line x1="796.4" y1="24.9" x2="1196.4" y2="142.1" stroke="#3563DA" stroke-width="2.6"/>
<ellipse cx="1060.4" cy="270.5" rx="16.8" ry="19.1" fill="none" stroke="#2E9E52" stroke-width="2.5"/>
<ellipse cx="1124.6" cy="258.9" rx="15.8" ry="19.4" fill="none" stroke="#2E9E52" stroke-width="2.5"/>
</g>
<path d="M8.1 8.3 L14.5 8.3 L11.3 12 Z" fill="#000"/>
<text x="19.3" y="13" font-size="8.4" fill="#000" stroke="#000" stroke-width="0.15" textLength="178.3" lengthAdjust="spacingAndGlyphs">GBPJPY,H4&#160;&#160;152.551 152.637 152.519 152.637</text>
<rect x="1438" y="2" width="1" height="752" fill="#000"/>
<rect x="1439" y="7.6" width="2.2" height="1.1" fill="#000"/>
<text x="1444.1" y="11.2" font-size="8.4" fill="#000" stroke="#000" stroke-width="0.15" textLength="29.3" lengthAdjust="spacingAndGlyphs">153.860</text>
<rect x="1439" y="36.0" width="2.2" height="1.1" fill="#000"/>
<text x="1444.1" y="39.6" font-size="8.4" fill="#000" stroke="#000" stroke-width="0.15" textLength="29.3" lengthAdjust="spacingAndGlyphs">153.655</text>
<rect x="1439" y="64.3" width="2.2" height="1.1" fill="#000"/>
<text x="1444.1" y="67.9" font-size="8.4" fill="#000" stroke="#000" stroke-width="0.15" textLength="29.3" lengthAdjust="spacingAndGlyphs">153.450</text>
<rect x="1439" y="92.7" width="2.2" height="1.1" fill="#000"/>
<text x="1444.1" y="96.3" font-size="8.4" fill="#000" stroke="#000" stroke-width="0.15" textLength="29.3" lengthAdjust="spacingAndGlyphs">153.240</text>
<rect x="1439" y="121.1" width="2.2" height="1.1" fill="#000"/>
<text x="1444.1" y="124.7" font-size="8.4" fill="#000" stroke="#000" stroke-width="0.15" textLength="29.3" lengthAdjust="spacingAndGlyphs">153.035</text>
<rect x="1439" y="149.5" width="2.2" height="1.1" fill="#000"/>
<text x="1444.1" y="153.1" font-size="8.4" fill="#000" stroke="#000" stroke-width="0.15" textLength="29.3" lengthAdjust="spacingAndGlyphs">152.830</text>
<rect x="1439" y="177.8" width="2.2" height="1.1" fill="#000"/>
<rect x="1439" y="206.2" width="2.2" height="1.1" fill="#000"/>
<text x="1444.1" y="209.8" font-size="8.4" fill="#000" stroke="#000" stroke-width="0.15" textLength="29.3" lengthAdjust="spacingAndGlyphs">152.415</text>
<rect x="1439" y="234.6" width="2.2" height="1.1" fill="#000"/>
<text x="1444.1" y="238.2" font-size="8.4" fill="#000" stroke="#000" stroke-width="0.15" textLength="29.3" lengthAdjust="spacingAndGlyphs">152.210</text>
<rect x="1439" y="263.0" width="2.2" height="1.1" fill="#000"/>
<rect x="1439" y="291.3" width="2.2" height="1.1" fill="#000"/>
<text x="1444.1" y="294.9" font-size="8.4" fill="#000" stroke="#000" stroke-width="0.15" textLength="29.3" lengthAdjust="spacingAndGlyphs">151.795</text>
<rect x="1439" y="319.7" width="2.2" height="1.1" fill="#000"/>
<text x="1444.1" y="323.3" font-size="8.4" fill="#000" stroke="#000" stroke-width="0.15" textLength="29.3" lengthAdjust="spacingAndGlyphs">151.590</text>
<rect x="1439" y="348.1" width="2.2" height="1.1" fill="#000"/>
<text x="1444.1" y="351.7" font-size="8.4" fill="#000" stroke="#000" stroke-width="0.15" textLength="29.3" lengthAdjust="spacingAndGlyphs">151.380</text>
<rect x="1439" y="376.4" width="2.2" height="1.1" fill="#000"/>
<text x="1444.1" y="380.0" font-size="8.4" fill="#000" stroke="#000" stroke-width="0.15" textLength="29.3" lengthAdjust="spacingAndGlyphs">151.175</text>
<rect x="1439" y="404.8" width="2.2" height="1.1" fill="#000"/>
<text x="1444.1" y="408.4" font-size="8.4" fill="#000" stroke="#000" stroke-width="0.15" textLength="29.3" lengthAdjust="spacingAndGlyphs">150.970</text>
<rect x="1439" y="433.2" width="2.2" height="1.1" fill="#000"/>
<text x="1444.1" y="436.8" font-size="8.4" fill="#000" stroke="#000" stroke-width="0.15" textLength="29.3" lengthAdjust="spacingAndGlyphs">150.760</text>
<rect x="1439" y="461.6" width="2.2" height="1.1" fill="#000"/>
<text x="1444.1" y="465.2" font-size="8.4" fill="#000" stroke="#000" stroke-width="0.15" textLength="29.3" lengthAdjust="spacingAndGlyphs">150.555</text>
<rect x="1439" y="489.9" width="2.2" height="1.1" fill="#000"/>
<text x="1444.1" y="493.5" font-size="8.4" fill="#000" stroke="#000" stroke-width="0.15" textLength="29.3" lengthAdjust="spacingAndGlyphs">150.350</text>
<rect x="1439" y="518.3" width="2.2" height="1.1" fill="#000"/>
<text x="1444.1" y="521.9" font-size="8.4" fill="#000" stroke="#000" stroke-width="0.15" textLength="29.3" lengthAdjust="spacingAndGlyphs">150.140</text>
<rect x="1439" y="546.7" width="2.2" height="1.1" fill="#000"/>
<text x="1444.1" y="550.3" font-size="8.4" fill="#000" stroke="#000" stroke-width="0.15" textLength="29.3" lengthAdjust="spacingAndGlyphs">149.935</text>
<rect x="1439" y="575.1" width="2.2" height="1.1" fill="#000"/>
<text x="1444.1" y="578.7" font-size="8.4" fill="#000" stroke="#000" stroke-width="0.15" textLength="29.3" lengthAdjust="spacingAndGlyphs">149.730</text>
<rect x="1439" y="603.4" width="2.2" height="1.1" fill="#000"/>
<text x="1444.1" y="607.0" font-size="8.4" fill="#000" stroke="#000" stroke-width="0.15" textLength="29.3" lengthAdjust="spacingAndGlyphs">149.520</text>
<rect x="1439" y="631.8" width="2.2" height="1.1" fill="#000"/>
<text x="1444.1" y="635.4" font-size="8.4" fill="#000" stroke="#000" stroke-width="0.15" textLength="29.3" lengthAdjust="spacingAndGlyphs">149.315</text>
<rect x="1440" y="171.7" width="37.4" height="8.9" fill="#000"/>
<text x="1444.1" y="179.2" font-size="8.4" fill="#fff" stroke="#fff" stroke-width="0.15" textLength="29.3" lengthAdjust="spacingAndGlyphs">152.637</text>
<rect x="1440" y="261.1" width="37.4" height="8.9" fill="#EE1111"/>
<text x="1444.1" y="269.0" font-size="8.4" fill="#fff" stroke="#fff" stroke-width="0.15" textLength="29.3" lengthAdjust="spacingAndGlyphs">151.983</text>
<rect x="1440" y="323.0" width="37.4" height="8.9" fill="#EE1111"/>
<text x="1444.1" y="330.9" font-size="8.4" fill="#fff" stroke="#fff" stroke-width="0.15" textLength="29.3" lengthAdjust="spacingAndGlyphs">151.532</text>
<rect x="4" y="633.8" width="1435" height="0.9" fill="#555"/>
<rect x="4" y="635.8" width="1435" height="1.2" fill="#000"/>
<line x1="6" y1="660.2" x2="1438" y2="660.2" stroke="#bdbdbd" stroke-width="1.1" stroke-dasharray="2.9 2.55"/>
<line x1="6" y1="695.2" x2="1438" y2="695.2" stroke="#bdbdbd" stroke-width="1.1" stroke-dasharray="2.9 2.55"/>
<line x1="6" y1="730.2" x2="1438" y2="730.2" stroke="#bdbdbd" stroke-width="1.1" stroke-dasharray="2.9 2.55"/>
<g clip-path="url(#cr)">
<polyline points="6.0,669.9 13.3,672.7 20.6,687.3 27.8,687.3 35.1,687.3 42.3,686.1 49.6,687.5 56.8,694.6 64.1,696.6 71.3,697.4 78.6,697.4 85.8,699.3 93.1,697.4 100.3,697.2 107.6,695.6 114.9,699.9 122.1,701.1 129.4,703.3 136.6,704.3 143.9,696.6 151.1,705.1 158.4,701.7 165.6,703.5 172.9,700.3 180.1,697.6 187.4,687.3 194.6,697.6 201.9,702.5 209.1,702.5 216.4,703.5 223.7,703.5 230.9,708.4 238.2,720.5 245.4,709.2 252.7,710.4 259.9,707.6 267.2,704.3 274.4,703.1 281.7,695.8 288.9,698.4 296.2,698.4 303.4,699.5 310.7,697.2 318.0,698.9 325.2,700.5 332.5,687.3 339.7,689.1 347.0,685.5 354.2,685.3 361.5,680.4 368.7,675.1 376.0,677.8 383.2,682.0 390.5,688.3 397.7,685.5 405.0,681.4 412.2,690.3 419.5,685.5 426.8,686.5 434.0,689.7 441.3,688.3 448.5,685.5 455.8,686.5 463.0,690.1 470.3,695.8 477.5,690.3 484.8,693.0 492.0,695.0 499.3,699.3 506.5,694.2 513.8,694.2 521.0,691.6 528.3,695.0 535.6,687.5 542.8,682.4 550.1,686.1 557.3,687.5 564.6,683.4 571.8,695.0 579.1,688.9 586.3,693.2 593.6,690.5 600.8,694.0 608.1,694.0 615.3,692.2 622.6,683.4 629.9,680.4 637.1,680.4 644.4,682.8 651.6,679.6 658.9,678.4 666.1,688.5 673.4,690.3 680.6,679.8 687.9,678.4 695.1,675.5 702.4,675.7 709.6,682.4 716.9,693.6 724.1,699.1 731.4,697.6 738.7,690.5 745.9,691.4 753.2,687.7 760.4,682.4 767.7,681.2 774.9,682.0 782.2,679.6 789.4,671.5 796.7,675.9 803.9,670.7 811.2,673.3 818.4,677.4 825.7,673.7 832.9,677.4 840.2,688.5 847.5,692.2 854.7,684.5 862.0,683.4 869.2,695.0 876.5,693.4 883.7,697.6 891.0,706.2 898.2,705.1 905.5,699.9 912.7,710.2 920.0,709.2 927.2,719.9 934.5,718.9 941.8,720.5 949.0,722.4 956.3,715.3 963.5,712.2 970.8,716.3 978.0,710.4 985.3,711.2 992.5,714.1 999.8,708.8 1007.0,710.4 1014.3,698.7 1021.5,683.4 1028.8,686.5 1036.0,684.5 1043.3,688.5 1050.6,688.9 1057.8,685.5 1065.1,684.5 1072.3,685.3 1079.6,687.3 1086.8,681.4 1094.1,682.0 1101.3,691.4 1108.6,690.1 1115.8,688.5 1123.1,692.0 1130.3,688.5 1137.6,687.3" fill="none" stroke="#7E2EB8" stroke-width="1.15" stroke-linejoin="round" />
</g>
<text x="9.5" y="646.7" font-size="8.4" fill="#000" stroke="#000" stroke-width="0.15" textLength="61.5" lengthAdjust="spacingAndGlyphs">RSI(14) 57.1747</text>
<text x="1442.0" y="645.9" font-size="8.4" fill="#000" stroke="#000" stroke-width="0.15">100</text>
<text x="1441.0" y="663.3" font-size="8.4" fill="#000" stroke="#000" stroke-width="0.15">80</text>
<text x="1441.0" y="698.3" font-size="8.4" fill="#000" stroke="#000" stroke-width="0.15">50</text>
<text x="1441.0" y="733.3" font-size="8.4" fill="#000" stroke="#000" stroke-width="0.15">20</text>
<text x="1442.0" y="749.9" font-size="8.4" fill="#000" stroke="#000" stroke-width="0.15">0</text>
<rect x="1439" y="637.7" width="2.2" height="1.1" fill="#000"/>
<rect x="1439" y="751.8" width="2.2" height="1.1" fill="#000"/>
<rect x="4" y="752.7" width="1435" height="1.2" fill="#000"/>
<rect x="5.1" y="753.5" width="1" height="2.8" fill="#000"/>
<text x="4.8" y="764" font-size="8.4" fill="#000" stroke="#000" stroke-width="0.15">8 Dec 2017</text>
<rect x="63.1" y="753.5" width="1" height="2.8" fill="#000"/>
<text x="62.8" y="764" font-size="8.4" fill="#000" stroke="#000" stroke-width="0.15">11 Dec 12:00</text>
<rect x="121.2" y="753.5" width="1" height="2.8" fill="#000"/>
<text x="120.9" y="764" font-size="8.4" fill="#000" stroke="#000" stroke-width="0.15">12 Dec 20:00</text>
<rect x="179.2" y="753.5" width="1" height="2.8" fill="#000"/>
<text x="178.9" y="764" font-size="8.4" fill="#000" stroke="#000" stroke-width="0.15">14 Dec 04:00</text>
<rect x="237.2" y="753.5" width="1" height="2.8" fill="#000"/>
<text x="236.9" y="764" font-size="8.4" fill="#000" stroke="#000" stroke-width="0.15">15 Dec 12:00</text>
<rect x="295.2" y="753.5" width="1" height="2.8" fill="#000"/>
<text x="294.9" y="764" font-size="8.4" fill="#000" stroke="#000" stroke-width="0.15">18 Dec 20:00</text>
<rect x="353.3" y="753.5" width="1" height="2.8" fill="#000"/>
<text x="353.0" y="764" font-size="8.4" fill="#000" stroke="#000" stroke-width="0.15">20 Dec 04:00</text>
<rect x="411.3" y="753.5" width="1" height="2.8" fill="#000"/>
<text x="411.0" y="764" font-size="8.4" fill="#000" stroke="#000" stroke-width="0.15">21 Dec 12:00</text>
<rect x="469.3" y="753.5" width="1" height="2.8" fill="#000"/>
<text x="469.0" y="764" font-size="8.4" fill="#000" stroke="#000" stroke-width="0.15">22 Dec 20:00</text>
<rect x="527.4" y="753.5" width="1" height="2.8" fill="#000"/>
<text x="527.1" y="764" font-size="8.4" fill="#000" stroke="#000" stroke-width="0.15">27 Dec 04:00</text>
<rect x="585.4" y="753.5" width="1" height="2.8" fill="#000"/>
<text x="585.1" y="764" font-size="8.4" fill="#000" stroke="#000" stroke-width="0.15">28 Dec 12:00</text>
<rect x="643.4" y="753.5" width="1" height="2.8" fill="#000"/>
<text x="643.1" y="764" font-size="8.4" fill="#000" stroke="#000" stroke-width="0.15">29 Dec 20:00</text>
<rect x="701.5" y="753.5" width="1" height="2.8" fill="#000"/>
<text x="701.2" y="764" font-size="8.4" fill="#000" stroke="#000" stroke-width="0.15">3 Jan 04:00</text>
<rect x="759.5" y="753.5" width="1" height="2.8" fill="#000"/>
<text x="759.2" y="764" font-size="8.4" fill="#000" stroke="#000" stroke-width="0.15">4 Jan 12:00</text>
<rect x="817.5" y="753.5" width="1" height="2.8" fill="#000"/>
<text x="817.2" y="764" font-size="8.4" fill="#000" stroke="#000" stroke-width="0.15">5 Jan 20:00</text>
<rect x="875.6" y="753.5" width="1" height="2.8" fill="#000"/>
<text x="875.3" y="764" font-size="8.4" fill="#000" stroke="#000" stroke-width="0.15">9 Jan 04:00</text>
<rect x="933.6" y="753.5" width="1" height="2.8" fill="#000"/>
<text x="933.3" y="764" font-size="8.4" fill="#000" stroke="#000" stroke-width="0.15">10 Jan 12:00</text>
<rect x="991.6" y="753.5" width="1" height="2.8" fill="#000"/>
<text x="991.3" y="764" font-size="8.4" fill="#000" stroke="#000" stroke-width="0.15">11 Jan 20:00</text>
<rect x="1049.6" y="753.5" width="1" height="2.8" fill="#000"/>
<text x="1049.3" y="764" font-size="8.4" fill="#000" stroke="#000" stroke-width="0.15">15 Jan 04:00</text>
<rect x="1107.7" y="753.5" width="1" height="2.8" fill="#000"/>
<text x="1107.4" y="764" font-size="8.4" fill="#000" stroke="#000" stroke-width="0.15">16 Jan 12:00</text>
</svg>
</body></html>
